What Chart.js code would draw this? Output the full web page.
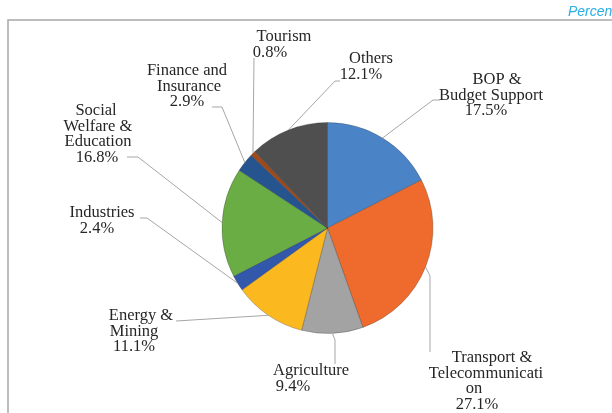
<!DOCTYPE html>
<html lang="en">
<head>
    <meta charset="UTF-8">
    <title>Sector Shares</title>
    <script src="https://cdn.jsdelivr.net/npm/chart.js"></script>
    <style>
        html, body { margin: 0; padding: 0; background: #fff; }
        #wrap { position: relative; width: 612px; height: 413px; }
    </style>
</head>
<body>
    <div id="wrap"><canvas id="pieChart"></canvas></div>

    <script>
        // data, clockwise from 12 o'clock
        const categories = [
            ['BOP &', 'Budget Support'],
            ['Transport &', 'Telecommunicati', 'on'],
            ['Agriculture'],
            ['Energy &', 'Mining'],
            ['Industries'],
            ['Social', 'Welfare &', 'Education'],
            ['Finance and', 'Insurance'],
            ['Tourism'],
            ['Others']
        ];
        const shares = [17.5, 27.1, 9.4, 11.1, 2.4, 16.8, 2.9, 0.8, 12.1];
        const colors = ['#4b84c6', '#ee6b2d', '#a3a3a3', '#fbb91f', '#3158ab', '#6aad45', '#26548f', '#9e4a1c', '#4f4f4f'];

        // label placement: centre x of each text line, first line y, leader points (label side first)
        const labelLayout = [
            { xs: [497, 491, 486], y: 80, leader: [[440, 100], [433, 100]] },
            { xs: [492, 486, 474, 477], y: 358, leader: [[430, 352], [430, 276]] },
            { xs: [311, 293], y: 371, leader: [[335, 364], [335, 340]] },
            { xs: [141, 134, 134], y: 316, leader: [[176, 321]] },
            { xs: [102, 97], y: 213, leader: [[140, 218], [147, 218]] },
            { xs: [96, 98, 98, 97], y: 111, leader: [[127, 157], [138, 157]] },
            { xs: [187, 189, 187], y: 71, leader: [[212, 107], [222, 107]] },
            { xs: [284, 270], y: 37, leader: [[254, 58]] },
            { xs: [371, 361], y: 59, leader: [[340, 81], [335, 81]] }
        ];

        const labelPlugin = {
            id: 'pieLabels',
            beforeDraw(chart) {
                const ctx = chart.ctx;
                ctx.save();
                ctx.strokeStyle = '#a8a8a8';
                ctx.lineWidth = 1.5;
                ctx.beginPath();
                ctx.moveTo(612, 20);
                ctx.lineTo(8, 20);
                ctx.lineTo(8, 413);
                ctx.stroke();
                ctx.fillStyle = '#29aee6';
                ctx.font = 'italic 14px "Liberation Sans", Arial, sans-serif';
                ctx.textBaseline = 'middle';
                ctx.fillText('Percent', 568, 12);
                ctx.restore();
            },
            afterDatasetsDraw(chart) {
                const ctx = chart.ctx;
                const arcs = chart.getDatasetMeta(0).data;
                ctx.save();
                arcs.forEach((arc, i) => {
                    const p = arc.getProps(['x', 'y', 'startAngle', 'endAngle', 'outerRadius'], true);
                    const mid = (p.startAngle + p.endAngle) / 2;
                    const ex = p.x + Math.cos(mid) * p.outerRadius;
                    const ey = p.y + Math.sin(mid) * p.outerRadius;
                    const lay = labelLayout[i];
                    ctx.strokeStyle = '#a6a6a6';
                    ctx.lineWidth = 1;
                    ctx.beginPath();
                    ctx.moveTo(lay.leader[0][0], lay.leader[0][1]);
                    lay.leader.slice(1).forEach(pt => ctx.lineTo(pt[0], pt[1]));
                    ctx.lineTo(ex, ey);
                    ctx.stroke();

                    const lines = categories[i].concat([shares[i].toFixed(1) + '%']);
                    ctx.fillStyle = '#262626';
                    ctx.font = '16.5px "Liberation Serif", "Times New Roman", serif';
                    ctx.textAlign = 'center';
                    ctx.textBaseline = 'middle';
                    lines.forEach((t, k) => {
                        ctx.fillText(t, lay.xs[k], lay.y + k * 15.5);
                    });
                });
                ctx.restore();
            }
        };

        new Chart(document.getElementById('pieChart'), {
            type: 'pie',
            data: {
                labels: categories.map(c => c.join(' ')),
                datasets: [{
                    data: shares,
                    backgroundColor: colors,
                    borderColor: 'rgba(40,40,40,0.35)',
                    borderWidth: 0.8
                }]
            },
            options: {
                responsive: true,
                maintainAspectRatio: false,
                animation: false,
                radius: 105.5,
                layout: { padding: { left: 222, right: 179, top: 122, bottom: 79 } },
                plugins: {
                    legend: { display: false },
                    tooltip: { enabled: false }
                }
            },
            plugins: [labelPlugin]
        });
    </script>
</body>
</html>
